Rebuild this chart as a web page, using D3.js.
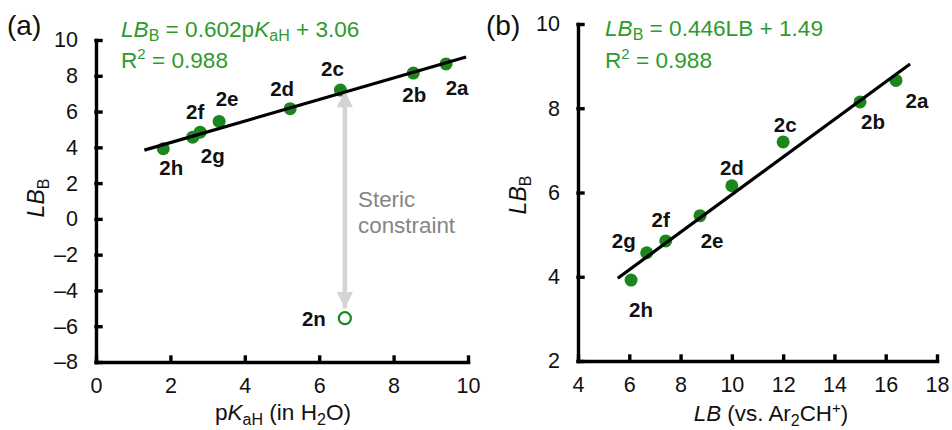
<!DOCTYPE html>
<html>
<head>
<meta charset="utf-8">
<script src="https://cdn.jsdelivr.net/npm/d3@7"></script>
<style>
    body { margin: 0; background: #fff; }
    svg { display: block; font-family: "Liberation Sans", Arial, sans-serif; }
    .axis path, .axis line { stroke: #000; stroke-width: 3.4px; stroke-linecap: square; }
    .axis text { font-size: 21.5px; fill: #111; font-family: "Liberation Sans", Arial, sans-serif; }
    .ptLabel { font-size: 20.5px; font-weight: bold; fill: #111; }
    .eq { font-size: 22.6px; fill: #2e9a2e; }
</style>
</head>
<body>
<div id="chart"></div>
<script>
// Compounds 2a-2h, LB_B against pKaH (a) and against LB (b)
var compounds = ["2a", "2b", "2c", "2d", "2e", "2f", "2g", "2h"];
var pKaH = [9.41, 8.53, 6.57, 5.22, 3.31, 2.80, 2.60, 1.81];
var lbAr2CH = [16.4, 15.0, 12.0, 10.0, 8.76, 7.42, 6.68, 6.07];
var lbB = [8.66, 8.15, 7.2, 6.16, 5.45, 4.85, 4.57, 3.92];

// Outlier (open circle) in panel (a)
var outlierName = "2n";
var outlierPKaH = 6.69;
var outlierLBB = -5.55;

// Fit lines: slope, intercept, x range
var fitA = { slope: 0.602, intercept: 3.06, x0: 1.3, x1: 9.95 };
var fitB = { slope: 0.446, intercept: 1.49, x0: 5.55, x1: 16.95 };

var xTicksA = [0, 2, 4, 6, 8, 10];
var yTicksA = [-8, -6, -4, -2, 0, 2, 4, 6, 8, 10];
var xTicksB = [4, 6, 8, 10, 12, 14, 16, 18];
var yTicksB = [2, 4, 6, 8, 10];

// label offsets in px (dx, dy of label centre from point)
var offA = {
    "2a": [11, 24], "2b": [1, 22], "2c": [-8, -21], "2d": [-8, -20],
    "2e": [8, -23], "2f": [-5, -21], "2g": [20, 18], "2h": [8, 19]
};
var offB = {
    "2a": [21, 20], "2b": [13, 20], "2c": [2, -17], "2d": [0, -18],
    "2e": [12, 25], "2f": [-5, -21], "2g": [-23, -12], "2h": [10, 29]
};

var dotColor = "#1b861b";
var svg = d3.select("#chart").append("svg")
    .attr("width", 952)
    .attr("height", 430);

// arrow head marker
var defs = svg.append("defs");
defs.append("marker")
    .attr("id", "head")
    .attr("viewBox", "0 0 10 10")
    .attr("refX", 10).attr("refY", 5)
    .attr("markerWidth", 4.2).attr("markerHeight", 3.6)
    .attr("markerUnits", "strokeWidth")
    .attr("orient", "auto-start-reverse")
    .append("path")
    .attr("d", "M0,0 L10,5 L0,10 Z")
    .attr("fill", "#d4d4d4");

function drawPanel(opt) {
    var g = svg.append("g");
    var x = d3.scaleLinear().domain(opt.xDomain).range(opt.xRange);
    var y = d3.scaleLinear().domain(opt.yDomain).range(opt.yRange);

    g.append("g")
        .attr("class", "axis")
        .attr("transform", "translate(0," + opt.yRange[0] + ")")
        .call(d3.axisBottom(x).tickValues(opt.xTicks).tickSizeInner(-5).tickSizeOuter(0).tickPadding(16));

    g.append("g")
        .attr("class", "axis")
        .attr("transform", "translate(" + opt.xRange[0] + ",0)")
        .call(d3.axisLeft(y).tickValues(opt.yTicks).tickSizeInner(-5).tickSizeOuter(0).tickPadding(18)
            .tickFormat(function(d) { return d < 0 ? "\u2013" + Math.abs(d) : d; }));

    return { g: g, x: x, y: y };
}

function drawPoints(p, xs, offsets) {
    p.g.selectAll(".dot")
        .data(compounds)
        .enter()
        .append("circle")
        .attr("class", "dot")
        .attr("cx", function(d, i) { return p.x(xs[i]); })
        .attr("cy", function(d, i) { return p.y(lbB[i]); })
        .attr("r", 6.5)
        .attr("fill", dotColor);

    p.g.selectAll(".ptLabel")
        .data(compounds)
        .enter()
        .append("text")
        .attr("class", "ptLabel")
        .attr("x", function(d, i) { return p.x(xs[i]) + offsets[d][0]; })
        .attr("y", function(d, i) { return p.y(lbB[i]) + offsets[d][1]; })
        .attr("dy", "0.36em")
        .attr("text-anchor", "middle")
        .text(function(d) { return d; });
}

function drawFit(p, fit) {
    p.g.append("line")
        .attr("x1", p.x(fit.x0))
        .attr("y1", p.y(fit.slope * fit.x0 + fit.intercept))
        .attr("x2", p.x(fit.x1))
        .attr("y2", p.y(fit.slope * fit.x1 + fit.intercept))
        .attr("stroke", "#000")
        .attr("stroke-width", 3.2);
}

function yTitle(x, y) {
    var t = svg.append("text")
        .attr("transform", "translate(" + x + "," + y + ") rotate(-90)")
        .attr("text-anchor", "middle")
        .attr("font-size", 23)
        .attr("fill", "#111");
    t.append("tspan").attr("font-style", "italic").text("LB");
    t.append("tspan").attr("font-size", 16).attr("dy", 5).text("B");
}

// ---------- panel (a) ----------
var pa = drawPanel({
    xDomain: [0, 10], xRange: [96, 468],
    yDomain: [-8, 10], yRange: [362, 40],
    xTicks: xTicksA, yTicks: yTicksA
});
drawPoints(pa, pKaH, offA);

// outlier 2n
pa.g.append("circle")
    .attr("cx", pa.x(outlierPKaH))
    .attr("cy", pa.y(outlierLBB))
    .attr("r", 6)
    .attr("fill", "none")
    .attr("stroke", dotColor)
    .attr("stroke-width", 2.2);
pa.g.append("text")
    .attr("class", "ptLabel")
    .attr("x", pa.x(outlierPKaH) - 31)
    .attr("y", pa.y(outlierLBB))
    .attr("dy", "0.36em")
    .attr("text-anchor", "middle")
    .text(outlierName);

// steric constraint arrow
pa.g.append("line")
    .attr("x1", pa.x(outlierPKaH))
    .attr("y1", pa.y(lbB[2]) + 1)
    .attr("x2", pa.x(outlierPKaH))
    .attr("y2", pa.y(outlierLBB) - 10)
    .attr("stroke", "#d4d4d4")
    .attr("stroke-width", 4.5)
    .attr("marker-start", "url(#head)")
    .attr("marker-end", "url(#head)");

pa.g.append("text")
    .attr("x", 358).attr("y", 207)
    .attr("font-size", 22.4).attr("fill", "#858585")
    .text("Steric");
pa.g.append("text")
    .attr("x", 358).attr("y", 233)
    .attr("font-size", 22.4).attr("fill", "#858585")
    .text("constraint");

drawFit(pa, fitA);

// equation (a)
var eqA = svg.append("text").attr("class", "eq").attr("x", 121).attr("y", 37);
eqA.append("tspan").attr("font-style", "italic").text("LB");
eqA.append("tspan").attr("font-size", 16).attr("dy", 4).text("B");
eqA.append("tspan").attr("dy", -4).text(" = 0.602p");
eqA.append("tspan").attr("font-style", "italic").text("K");
eqA.append("tspan").attr("font-size", 16).attr("dy", 4).text("aH");
eqA.append("tspan").attr("dy", -4).text(" + 3.06");

var r2A = svg.append("text").attr("class", "eq").attr("x", 121).attr("y", 68);
r2A.append("tspan").text("R");
r2A.append("tspan").attr("font-size", 15).attr("dy", -9).text("2");
r2A.append("tspan").attr("dy", 9).text(" = 0.988");

// x title (a)
var xtA = svg.append("text")
    .attr("x", 283).attr("y", 420)
    .attr("text-anchor", "middle")
    .attr("font-size", 22.6).attr("fill", "#111");
xtA.append("tspan").text("p");
xtA.append("tspan").attr("font-style", "italic").text("K");
xtA.append("tspan").attr("font-size", 16).attr("dy", 5).text("aH");
xtA.append("tspan").attr("dy", -5).text(" (in H");
xtA.append("tspan").attr("font-size", 16).attr("dy", 5).text("2");
xtA.append("tspan").attr("dy", -5).text("O)");

yTitle(44, 198);

svg.append("text")
    .attr("x", 7).attr("y", 35)
    .attr("font-size", 28).attr("fill", "#111")
    .text("(a)");

// ---------- panel (b) ----------
var pb = drawPanel({
    xDomain: [4, 18], xRange: [578, 937],
    yDomain: [2, 10], yRange: [361, 24],
    xTicks: xTicksB, yTicks: yTicksB
});
drawPoints(pb, lbAr2CH, offB);
drawFit(pb, fitB);

var eqB = svg.append("text").attr("class", "eq").attr("x", 605).attr("y", 36);
eqB.append("tspan").attr("font-style", "italic").text("LB");
eqB.append("tspan").attr("font-size", 16).attr("dy", 4).text("B");
eqB.append("tspan").attr("dy", -4).text(" = 0.446LB + 1.49");

var r2B = svg.append("text").attr("class", "eq").attr("x", 605).attr("y", 68);
r2B.append("tspan").text("R");
r2B.append("tspan").attr("font-size", 15).attr("dy", -9).text("2");
r2B.append("tspan").attr("dy", 9).text(" = 0.988");

var xtB = svg.append("text")
    .attr("x", 771).attr("y", 421)
    .attr("text-anchor", "middle")
    .attr("font-size", 22.4).attr("fill", "#111");
xtB.append("tspan").attr("font-style", "italic").text("LB");
xtB.append("tspan").text(" (vs. Ar");
xtB.append("tspan").attr("font-size", 16).attr("dy", 5).text("2");
xtB.append("tspan").attr("dy", -5).text("CH");
xtB.append("tspan").attr("font-size", 15).attr("dy", -8).text("+");
xtB.append("tspan").attr("dy", 8).text(")");

yTitle(526, 195);

svg.append("text")
    .attr("x", 486).attr("y", 35)
    .attr("font-size", 28).attr("fill", "#111")
    .text("(b)");
</script>
</body>
</html>
